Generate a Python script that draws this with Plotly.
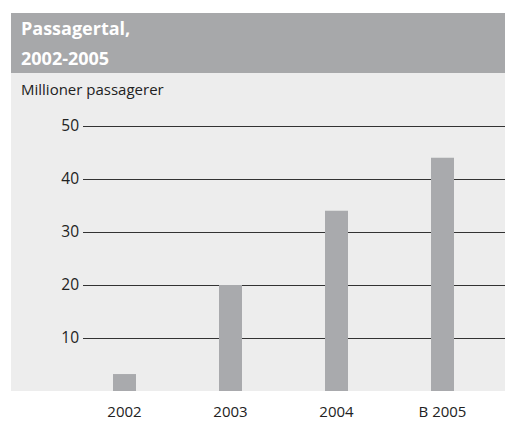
import plotly.graph_objects as go

categories = ["2002", "2003", "2004", "B 2005"]
passengers = [3.2, 20, 34, 44]
y_ticks = [10, 20, 30, 40, 50]

W, H = 505, 421
ML, MR, MT, MB = 83, 0, 100, 30
PW, PH = W - ML - MR, H - MT - MB

def px_x(px):
    return (px - ML) / PW

def px_y(py):
    return (H - MB - py) / PH

HEADER = "#a7a8aa"
BAR = "#a9aaad"
BG = "#ededed"
TXT = "#222222"
FONT = "Open Sans"

fig = go.Figure()
fig.add_trace(go.Bar(
    x=categories, y=passengers,
    marker=dict(color=BAR, line=dict(width=0)),
    width=0.217,
    hoverinfo="x+y",
))

fig.update_layout(
    width=W, height=H,
    margin=dict(l=ML, r=MR, t=MT, b=MB, autoexpand=False),
    paper_bgcolor="white",
    plot_bgcolor="rgba(0,0,0,0)",
    showlegend=False,
    font=dict(family=FONT, size=15, color=TXT),
    xaxis=dict(
        type="category", range=[-0.3915, 3.5896],
        showgrid=False, zeroline=False, showline=False,
        ticks="", ticklabelstandoff=10,
        tickfont=dict(family=FONT, size=15, color=TXT),
        fixedrange=True,
    ),
    yaxis=dict(
        range=[0, PH / 5.3],
        tickvals=y_ticks,
        showgrid=True, gridcolor="#333333", gridwidth=1,
        zeroline=False, showline=False,
        ticks="", ticklabelstandoff=3,
        tickfont=dict(family=FONT, size=15.5, color=TXT),
        fixedrange=True,
    ),
    shapes=[
        dict(type="rect", xref="paper", yref="paper",
             x0=px_x(11), x1=1, y0=px_y(73), y1=px_y(13),
             fillcolor=HEADER, line=dict(width=0), layer="below"),
        dict(type="rect", xref="paper", yref="paper",
             x0=px_x(11), x1=1, y0=0, y1=px_y(73),
             fillcolor=BG, line=dict(width=0), layer="below"),
    ],
    annotations=[
        dict(text="<b>Passagertal,</b>", xref="paper", yref="paper",
             x=px_x(19), y=px_y(28), xanchor="left", yanchor="middle",
             showarrow=False, font=dict(family=FONT, size=18, color="white")),
        dict(text="<b>2002-2005</b>", xref="paper", yref="paper",
             x=px_x(19), y=px_y(58), xanchor="left", yanchor="middle",
             showarrow=False, font=dict(family=FONT, size=18, color="white")),
        dict(text="Millioner passagerer", xref="paper", yref="paper",
             x=px_x(19), y=px_y(89), xanchor="left", yanchor="middle",
             showarrow=False, font=dict(family=FONT, size=15, color=TXT)),
    ],
)

fig.write_html(
    "out.html",
    config={"displayModeBar": False},
    post_script="document.body.style.margin='0';document.body.style.overflow='hidden';",
)
